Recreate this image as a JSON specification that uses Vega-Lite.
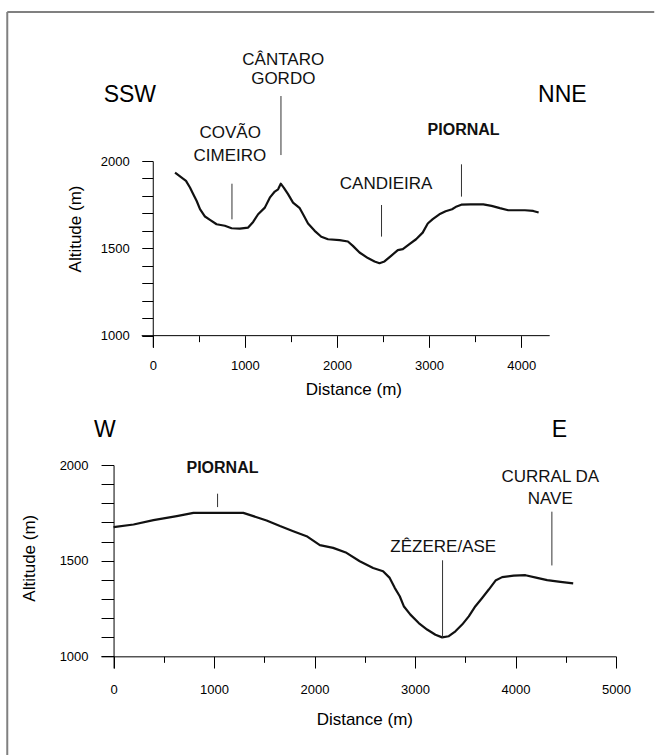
{
  "$schema": "https://vega.github.io/schema/vega-lite/v6.json",
  "background": "white",
  "padding": {"left": 6, "top": 10, "right": 0, "bottom": 0},
  "autosize": {"type": "pad"},
  "spacing": -2,
  "config": {
    "view": {"stroke": null},
    "axis": {
      "domainColor": "#000", "tickColor": "#000", "labelColor": "#000", "titleColor": "#000",
      "labelFont": "Liberation Sans", "titleFont": "Liberation Sans",
      "labelFontSize": 13, "titleFontSize": 17, "titleFontWeight": "normal",
      "grid": false, "labelFlush": false, "labelOverlap": false, "domainWidth": 1, "tickWidth": 1
    },
    "text": {"font": "Liberation Sans"}
  },
  "datasets": {
    "topProfile": [
      {"d":242,"a":1933},{"d":314,"a":1905},{"d":361,"a":1886},{"d":404,"a":1848},{"d":440,"a":1810},
      {"d":477,"a":1771},{"d":513,"a":1724},{"d":567,"a":1682},{"d":621,"a":1663},{"d":693,"a":1638},
      {"d":783,"a":1629},{"d":856,"a":1615},{"d":946,"a":1613},{"d":1036,"a":1619},{"d":1090,"a":1651},
      {"d":1144,"a":1695},{"d":1217,"a":1733},{"d":1271,"a":1790},{"d":1325,"a":1825},{"d":1361,"a":1838},
      {"d":1390,"a":1870},{"d":1422,"a":1848},{"d":1469,"a":1810},{"d":1523,"a":1762},{"d":1596,"a":1730},
      {"d":1632,"a":1695},{"d":1686,"a":1642},{"d":1758,"a":1600},{"d":1830,"a":1566},{"d":1903,"a":1552},
      {"d":2029,"a":1547},{"d":2119,"a":1539},{"d":2173,"a":1514},{"d":2245,"a":1476},{"d":2336,"a":1444},
      {"d":2408,"a":1425},{"d":2462,"a":1415},{"d":2516,"a":1425},{"d":2588,"a":1457},{"d":2661,"a":1490},
      {"d":2715,"a":1495},{"d":2787,"a":1524},{"d":2859,"a":1552},{"d":2931,"a":1590},{"d":2986,"a":1642},
      {"d":3040,"a":1667},{"d":3112,"a":1695},{"d":3180,"a":1712},{"d":3250,"a":1724},{"d":3300,"a":1740},
      {"d":3350,"a":1750},{"d":3453,"a":1752},{"d":3589,"a":1752},{"d":3679,"a":1743},{"d":3769,"a":1730},
      {"d":3860,"a":1718},{"d":3950,"a":1718},{"d":4041,"a":1718},{"d":4131,"a":1714},{"d":4190,"a":1705}
    ],
    "topLeaders": [
      {"name":"COVÃO CIMEIRO","d":860,"top":1870,"bottom":1666},
      {"name":"CÂNTARO GORDO","d":1392,"top":2372,"bottom":2034},
      {"name":"CANDIEIRA","d":2484,"top":1748,"bottom":1567},
      {"name":"PIORNAL","d":3352,"top":1981,"bottom":1796}
    ],
    "topLabels": [
      {"label":"SSW","kind":"direction","d":-249,"a":2379},
      {"label":"NNE","kind":"direction","d":4447,"a":2379},
      {"label":"CÂNTARO","kind":"place","d":1417,"a":2579},
      {"label":"GORDO","kind":"place","d":1417,"a":2470},
      {"label":"COVÃO","kind":"place","d":841,"a":2158},
      {"label":"CIMEIRO","kind":"place","d":838,"a":2029},
      {"label":"CANDIEIRA","kind":"place","d":2533,"a":1868},
      {"label":"PIORNAL","kind":"village","d":3375,"a":2179}
    ],
    "bottomProfile": [
      {"d":0,"a":1675},{"d":199,"a":1689},{"d":397,"a":1712},{"d":629,"a":1733},{"d":795,"a":1750},
      {"d":911,"a":1750},{"d":1100,"a":1750},{"d":1291,"a":1750},{"d":1391,"a":1733},{"d":1523,"a":1710},
      {"d":1656,"a":1681},{"d":1788,"a":1654},{"d":1921,"a":1628},{"d":2053,"a":1581},{"d":2185,"a":1567},
      {"d":2318,"a":1541},{"d":2450,"a":1497},{"d":2583,"a":1462},{"d":2682,"a":1445},{"d":2748,"a":1410},
      {"d":2798,"a":1358},{"d":2848,"a":1314},{"d":2888,"a":1262},{"d":2954,"a":1218},{"d":3037,"a":1174},
      {"d":3120,"a":1140},{"d":3203,"a":1113},{"d":3270,"a":1099},{"d":3336,"a":1105},{"d":3402,"a":1131},
      {"d":3469,"a":1166},{"d":3535,"a":1209},{"d":3601,"a":1262},{"d":3668,"a":1305},{"d":3734,"a":1349},
      {"d":3801,"a":1396},{"d":3867,"a":1414},{"d":3982,"a":1422},{"d":4099,"a":1424},{"d":4215,"a":1410},
      {"d":4315,"a":1398},{"d":4447,"a":1389},{"d":4574,"a":1381}
    ],
    "bottomLeaders": [
      {"name":"PIORNAL","d":1035,"top":1850,"bottom":1780},
      {"name":"ZÊZERE/ASE","d":3274,"top":1502,"bottom":1097},
      {"name":"CURRAL DA NAVE","d":4362,"top":1756,"bottom":1475}
    ],
    "bottomLabels": [
      {"label":"W","kind":"direction","d":-87,"a":2181},
      {"label":"E","kind":"direction","d":4437,"a":2181},
      {"label":"PIORNAL","kind":"village","d":1084,"a":1984},
      {"label":"CURRAL DA","kind":"place","d":4346,"a":1936},
      {"label":"NAVE","kind":"place","d":4346,"a":1823},
      {"label":"ZÊZERE/ASE","kind":"place","d":3281,"a":1572}
    ]
  },
  "vconcat": [
    {
      "width": 448.7,
      "height": 186,
      "resolve": {"axis": {"x": "independent", "y": "independent"}},
      "layer": [
        {
          "data": {"values": [{}]},
          "mark": {"type": "rule", "color": "#808080", "strokeWidth": 2},
          "encoding": {
            "x": {"datum": -1579.8, "type": "quantitative", "scale": {"domain": [-562, 4310], "nice": false, "zero": false}, "axis": null},
            "x2": {"datum": 5445.2},
            "y": {"datum": 2853.15, "type": "quantitative", "scale": {"domain": [935, 2000], "nice": false, "zero": false}, "axis": null}
          }
        },
        {
          "data": {"values": [{}]},
          "mark": {"type": "rule", "color": "#808080", "strokeWidth": 2},
          "encoding": {
            "x": {"datum": -1579.8, "type": "quantitative", "scale": {"domain": [-562, 4310], "nice": false, "zero": false}, "axis": null},
            "y": {"datum": 2853.15, "type": "quantitative", "scale": {"domain": [935, 2000], "nice": false, "zero": false}, "axis": null},
            "y2": {"datum": 568.55}
          }
        },
        {
          "data": {"values": [{}]},
          "mark": {"type": "rule", "color": "#000", "strokeWidth": 1},
          "encoding": {
            "x": {"datum": -120, "type": "quantitative", "scale": {"domain": [-562, 4310], "nice": false, "zero": false}, "axis": null},
            "x2": {"datum": 4310},
            "y": {"datum": 1000, "type": "quantitative", "scale": {"domain": [935, 2000], "nice": false, "zero": false}, "axis": null}
          }
        },
        {
          "data": {"name": "topProfile"},
          "mark": {"type": "line", "color": "#111", "strokeWidth": 2.2, "strokeJoin": "round"},
          "encoding": {
            "x": {
              "field": "d", "type": "quantitative",
              "scale": {"domain": [-562, 4310], "nice": false, "zero": false},
              "axis": {
                "orient": "bottom", "offset": -11.35, "values": [0, 1000, 2000, 3000, 4000], "format": "d", "domain": false,
                "tickSize": 11.7, "labelPadding": 22.6, "labelBaseline": "alphabetic", "labelOverlap": false,
                "title": "Distance (m)", "titleX": 252.3, "titleY": 58.8, "titleBaseline": "alphabetic"
              }
            },
            "y": {
              "field": "a", "type": "quantitative",
              "scale": {"domain": [935, 2000], "nice": false, "zero": false},
              "axis": {
                "orient": "left", "offset": -51.76, "values": [1000,1100,1200,1300,1400,1500,1600,1700,1800,1900,2000], "format": "d",
                "labelExpr": "datum.value % 500 === 0 ? datum.label : ''", "labelOverlap": false,
                "tickSize": 11, "labelPadding": 12.5,
                "title": "Altitude (m)", "titleX": -72, "titleY": 67.5, "titleBaseline": "alphabetic"
              }
            }
          }
        },
        {
          "data": {"name": "topLeaders"},
          "mark": {"type": "rule", "color": "#333", "strokeWidth": 1},
          "encoding": {
            "x": {
              "field": "d", "type": "quantitative",
              "scale": {"domain": [-562, 4310], "nice": false, "zero": false},
              "axis": {"orient": "bottom", "offset": -11.35, "values": [500, 1500, 2500, 3500], "tickSize": 6, "labels": false, "domain": false, "title": null}
            },
            "y": {"field": "top", "type": "quantitative", "scale": {"domain": [935, 2000], "nice": false, "zero": false}, "axis": null},
            "y2": {"field": "bottom"}
          }
        },
        {
          "data": {"name": "topLabels"},
          "transform": [{"filter": "datum.kind === 'place'"}],
          "mark": {"type": "text", "fontSize": 17, "color": "#111", "align": "center", "baseline": "middle"},
          "encoding": {
            "x": {"field": "d", "type": "quantitative", "scale": {"domain": [-562, 4310], "nice": false, "zero": false}, "axis": null},
            "y": {"field": "a", "type": "quantitative", "scale": {"domain": [935, 2000], "nice": false, "zero": false}, "axis": null},
            "text": {"field": "label"}
          }
        },
        {
          "data": {"name": "topLabels"},
          "transform": [{"filter": "datum.kind === 'village'"}],
          "mark": {"type": "text", "fontSize": 16, "fontWeight": "bold", "color": "#111", "align": "center", "baseline": "middle"},
          "encoding": {
            "x": {"field": "d", "type": "quantitative", "scale": {"domain": [-562, 4310], "nice": false, "zero": false}, "axis": null},
            "y": {"field": "a", "type": "quantitative", "scale": {"domain": [935, 2000], "nice": false, "zero": false}, "axis": null},
            "text": {"field": "label"}
          }
        },
        {
          "data": {"name": "topLabels"},
          "transform": [{"filter": "datum.kind === 'direction'"}],
          "mark": {"type": "text", "fontSize": 23, "color": "#000", "align": "center", "baseline": "middle"},
          "encoding": {
            "x": {"field": "d", "type": "quantitative", "scale": {"domain": [-562, 4310], "nice": false, "zero": false}, "axis": null},
            "y": {"field": "a", "type": "quantitative", "scale": {"domain": [935, 2000], "nice": false, "zero": false}, "axis": null},
            "text": {"field": "label"}
          }
        }
      ]
    },
    {
      "width": 515,
      "height": 203,
      "resolve": {"axis": {"x": "independent", "y": "independent"}},
      "layer": [
        {
          "data": {"values": [{}]},
          "mark": {"type": "rule", "color": "#808080", "strokeWidth": 2},
          "encoding": {
            "x": {"datum": -1057.85, "type": "quantitative", "scale": {"domain": [-125, 5000], "nice": false, "zero": false}, "axis": null},
            "y": {"datum": 2282.23, "type": "quantitative", "scale": {"domain": [939, 2000], "nice": false, "zero": false}, "axis": null},
            "y2": {"datum": 484.29}
          }
        },
        {
          "data": {"name": "bottomProfile"},
          "mark": {"type": "line", "color": "#111", "strokeWidth": 2.2, "strokeJoin": "round"},
          "encoding": {
            "x": {
              "field": "d", "type": "quantitative",
              "scale": {"domain": [-125, 5000], "nice": false, "zero": false},
              "axis": {
                "orient": "bottom", "offset": -11.67, "values": [0, 1000, 2000, 3000, 4000, 5000], "format": "d",
                "tickSize": 11.7, "labelPadding": 25, "labelBaseline": "alphabetic", "labelOverlap": false,
                "title": "Distance (m)", "titleX": 263.3, "titleY": 67.7, "titleBaseline": "alphabetic"
              }
            },
            "y": {
              "field": "a", "type": "quantitative",
              "scale": {"domain": [939, 2000], "nice": false, "zero": false},
              "axis": {
                "orient": "left", "offset": -12.56, "values": [1000,1100,1200,1300,1400,1500,1600,1700,1800,1900,2000], "format": "d",
                "labelExpr": "datum.value % 500 === 0 ? datum.label : ''", "labelOverlap": false,
                "tickSize": 12.5, "labelPadding": 13,
                "title": "Altitude (m)", "titleX": -79, "titleY": 92.7, "titleBaseline": "alphabetic"
              }
            }
          }
        },
        {
          "data": {"name": "bottomLeaders"},
          "mark": {"type": "rule", "color": "#333", "strokeWidth": 1},
          "encoding": {
            "x": {
              "field": "d", "type": "quantitative",
              "scale": {"domain": [-125, 5000], "nice": false, "zero": false},
              "axis": {"orient": "bottom", "offset": -11.67, "values": [500, 1500, 2500, 3500, 4500], "tickSize": 6, "labels": false, "domain": false, "title": null}
            },
            "y": {"field": "top", "type": "quantitative", "scale": {"domain": [939, 2000], "nice": false, "zero": false}, "axis": null},
            "y2": {"field": "bottom"}
          }
        },
        {
          "data": {"name": "bottomLabels"},
          "transform": [{"filter": "datum.kind === 'place'"}],
          "mark": {"type": "text", "fontSize": 17, "color": "#111", "align": "center", "baseline": "middle"},
          "encoding": {
            "x": {"field": "d", "type": "quantitative", "scale": {"domain": [-125, 5000], "nice": false, "zero": false}, "axis": null},
            "y": {"field": "a", "type": "quantitative", "scale": {"domain": [939, 2000], "nice": false, "zero": false}, "axis": null},
            "text": {"field": "label"}
          }
        },
        {
          "data": {"name": "bottomLabels"},
          "transform": [{"filter": "datum.kind === 'village'"}],
          "mark": {"type": "text", "fontSize": 16, "fontWeight": "bold", "color": "#111", "align": "center", "baseline": "middle"},
          "encoding": {
            "x": {"field": "d", "type": "quantitative", "scale": {"domain": [-125, 5000], "nice": false, "zero": false}, "axis": null},
            "y": {"field": "a", "type": "quantitative", "scale": {"domain": [939, 2000], "nice": false, "zero": false}, "axis": null},
            "text": {"field": "label"}
          }
        },
        {
          "data": {"name": "bottomLabels"},
          "transform": [{"filter": "datum.kind === 'direction'"}],
          "mark": {"type": "text", "fontSize": 23, "color": "#000", "align": "center", "baseline": "middle"},
          "encoding": {
            "x": {"field": "d", "type": "quantitative", "scale": {"domain": [-125, 5000], "nice": false, "zero": false}, "axis": null},
            "y": {"field": "a", "type": "quantitative", "scale": {"domain": [939, 2000], "nice": false, "zero": false}, "axis": null},
            "text": {"field": "label"}
          }
        }
      ]
    }
  ]
}
